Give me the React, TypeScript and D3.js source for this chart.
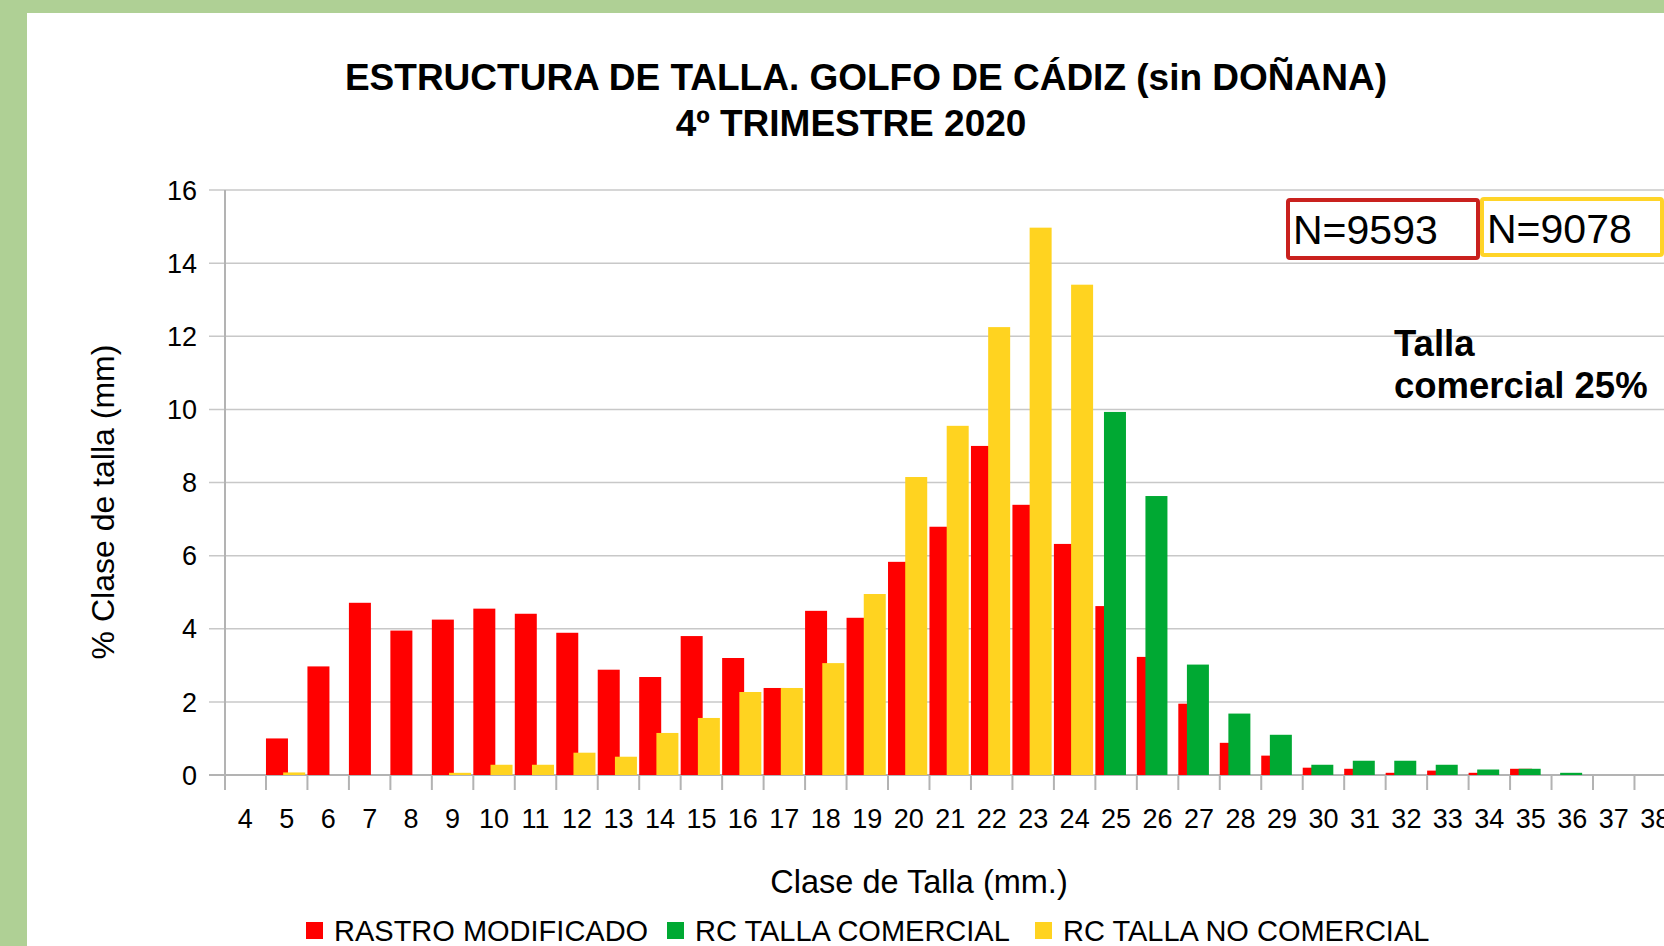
import * as d3 from "d3";

// size classes (mm)
const clases = d3.range(4, 39).map(String);
// % per class
const rastro = [0, 1.0, 2.97, 4.71, 3.95, 4.25, 4.55, 4.41, 3.89, 2.88, 2.68, 3.8, 3.2, 2.38, 4.49, 4.3, 5.83, 6.79, 9.0, 7.39, 6.32, 4.62, 3.23, 1.95, 0.88, 0.53, 0.2, 0.17, 0.06, 0.12, 0.06, 0.17, 0, 0, 0];
const comercial = [0, 0, 0, 0, 0, 0, 0, 0, 0, 0, 0, 0, 0, 0, 0, 0, 0, 0, 0, 0, 0, 9.93, 7.63, 3.02, 1.68, 1.1, 0.28, 0.39, 0.39, 0.28, 0.15, 0.17, 0.06, 0, 0];
const noComercial = [0, 0.07, 0, 0, 0, 0.06, 0.28, 0.28, 0.61, 0.5, 1.15, 1.56, 2.27, 2.38, 3.06, 4.95, 8.15, 9.55, 12.25, 14.97, 13.41, 0, 0, 0, 0, 0, 0, 0, 0, 0, 0, 0, 0, 0, 0];
const yTicks = [0, 2, 4, 6, 8, 10, 12, 14, 16];

const series = [
  { name: "RASTRO MODIFICADO", values: rastro, color: "#ff0000" },
  { name: "RC TALLA COMERCIAL", values: comercial, color: "#00a933" },
  { name: "RC TALLA NO COMERCIAL", values: noComercial, color: "#ffd320" },
];

const W = 1664;
const H = 946;
const font = "'Liberation Sans', Arial, sans-serif";

export default function App() {
  const x0 = 224.5;
  const x = d3.scaleBand().domain(clases).range([x0, x0 + 35 * 41.47]);
  const y = d3.scaleLinear().domain([0, 16]).range([775, 190]);
  const bw = 22;
  const step = 8.6; // series offset (overlapping bars)

  const legendX = [306, 667, 1035];

  return (
    <div style={{ position: "absolute", left: 0, top: 0 }}>
      <svg width={W} height={H} style={{ display: "block" }} fontFamily={font}>
        <rect width={W} height={H} fill="#afd095" />
        <rect x={27} y={13} width={W} height={H} fill="#ffffff" />

        <text x={866} y={90} textAnchor="middle" fontSize={37} fontWeight="bold">
          ESTRUCTURA DE TALLA. GOLFO DE CÁDIZ (sin DOÑANA)
        </text>
        <text x={851} y={136} textAnchor="middle" fontSize={37} fontWeight="bold">
          4º TRIMESTRE 2020
        </text>

        {/* grid */}
        {yTicks.map((t) => (
          <g key={t}>
            <line x1={209} x2={W} y1={y(t)} y2={y(t)} stroke={t === 0 ? "#b3b3b3" : "#c8c8c8"} strokeWidth={t === 0 ? 2 : 1.5} />
            <text x={197} y={y(t)} dy="0.36em" textAnchor="end" fontSize={27}>
              {t}
            </text>
          </g>
        ))}
        <line x1={225} x2={225} y1={y(16)} y2={790} stroke="#b3b3b3" strokeWidth={2} />

        {/* bars */}
        {series.map((s, si) => (
          <g key={s.name}>
            {s.values.map((v, i) =>
              v > 0 ? (
                <rect
                  key={i}
                  x={x(clases[i])! + si * step}
                  y={y(v)}
                  width={bw}
                  height={y(0) - y(v)}
                  fill={s.color}
                />
              ) : null
            )}
          </g>
        ))}

        {/* x axis */}
        {clases.map((c) => (
          <g key={c}>
            <line x1={x(c)! + x.bandwidth()} x2={x(c)! + x.bandwidth()} y1={775} y2={790} stroke="#b3b3b3" strokeWidth={2} />
            <text x={x(c)! + x.bandwidth() / 2} y={828} textAnchor="middle" fontSize={27}>
              {c}
            </text>
          </g>
        ))}

        <text x={919} y={893} textAnchor="middle" fontSize={32.5}>
          Clase de Talla (mm.)
        </text>
        <text transform="translate(114,502) rotate(-90)" textAnchor="middle" fontSize={32}>
          % Clase de talla (mm)
        </text>

        {/* legend */}
        {series.map((s, i) => (
          <g key={s.name}>
            <rect x={legendX[i]} y={922} width={17} height={17} fill={s.color} />
            <text x={legendX[i] + 28} y={941} fontSize={29}>
              {s.name}
            </text>
          </g>
        ))}

        {/* N boxes */}
        <rect x={1288} y={200} width={190} height={58} fill="#ffffff" stroke="#c9211e" strokeWidth={4} rx={2} />
        <text x={1293} y={244} fontSize={41}>N=9593</text>
        <rect x={1482} y={199} width={180} height={56} fill="#ffffff" stroke="#ffd428" strokeWidth={4} rx={2} />
        <text x={1487} y={243} fontSize={41}>N=9078</text>

        <text x={1394} y={356} fontSize={36.5} fontWeight="bold">Talla</text>
        <text x={1394} y={398} fontSize={36.5} fontWeight="bold">comercial 25%</text>
      </svg>
    </div>
  );
}
